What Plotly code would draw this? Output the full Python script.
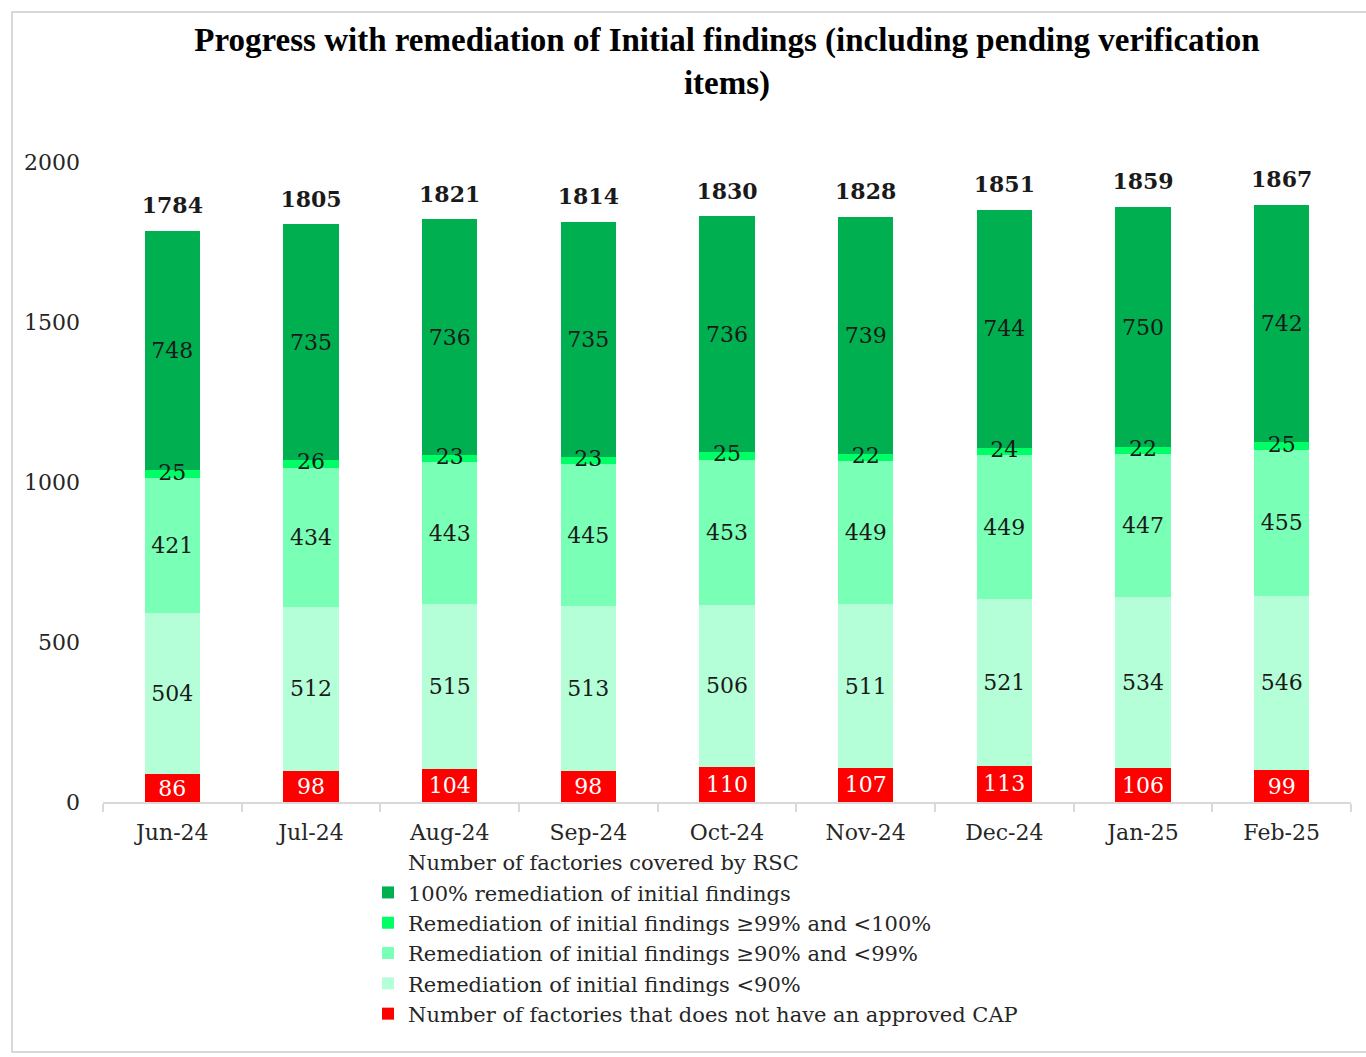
import plotly.graph_objects as go

months = ["Jun-24", "Jul-24", "Aug-24", "Sep-24", "Oct-24", "Nov-24", "Dec-24", "Jan-25", "Feb-25"]
totals = [1784, 1805, 1821, 1814, 1830, 1828, 1851, 1859, 1867]
full_100 = [748, 735, 736, 735, 736, 739, 744, 750, 742]
pct_99_100 = [25, 26, 23, 23, 25, 22, 24, 22, 25]
pct_90_99 = [421, 434, 443, 445, 453, 449, 449, 447, 455]
pct_lt_90 = [504, 512, 515, 513, 506, 511, 521, 534, 546]
no_cap = [86, 98, 104, 98, 110, 107, 113, 106, 99]

FONT = "DejaVu Serif"
LABEL_SIZE = 22
TEXT_COL = "#1a1a1a"

# (name, values, colour, label colour, label inside bar?) from the bottom of the stack up
series = [
    ("Number of factories that does not have an approved CAP", no_cap, "#FF0000", "white", True),
    ("Remediation of initial findings <90%", pct_lt_90, "#B4FFD7", TEXT_COL, True),
    ("Remediation of initial findings \u226590% and <99%", pct_90_99, "#7AFFB6", TEXT_COL, True),
    ("Remediation of initial findings \u226599% and <100%", pct_99_100, "#00FF66", TEXT_COL, False),
    ("100% remediation of initial findings", full_100, "#00B050", TEXT_COL, True),
]

fig = go.Figure()
for name, vals, colour, txt, inside in series:
    fig.add_trace(
        go.Bar(
            x=months,
            y=vals,
            name=name,
            marker=dict(color=colour, line=dict(width=0)),
            text=vals if inside else None,
            textposition="inside" if inside else "none",
            insidetextanchor="middle",
            textangle=0,
            textfont=dict(family=FONT, size=LABEL_SIZE, color=txt),
        )
    )

# the thin >=99% segment: its label floats above the neighbouring bars
base_99 = [a + b + c for a, b, c in zip(no_cap, pct_lt_90, pct_90_99)]
fig.add_trace(
    go.Scatter(
        x=months,
        y=[b + v / 2 for b, v in zip(base_99, pct_99_100)],
        mode="text",
        text=pct_99_100,
        textposition="middle center",
        textfont=dict(family=FONT, size=LABEL_SIZE, color=TEXT_COL),
        showlegend=False,
        hoverinfo="skip",
    )
)

# legend entry for the totals (nothing drawn in the plot)
fig.add_trace(
    go.Bar(
        x=months,
        y=[0] * len(months),
        name="Number of factories covered by RSC",
        marker=dict(color="rgba(0,0,0,0)", line=dict(width=0)),
        hoverinfo="skip",
    )
)

# totals above each stack
fig.add_trace(
    go.Scatter(
        x=months,
        y=totals,
        mode="markers+text",
        marker=dict(size=18, opacity=0),
        text=totals,
        textposition="top center",
        textfont=dict(family=FONT, size=LABEL_SIZE, color=TEXT_COL, weight="bold"),
        showlegend=False,
        cliponaxis=False,
    )
)

L, R, T, B = 103, 15, 162, 255
W, H = 1366, 1057
pw, ph = W - L - R, H - T - B

fig.update_layout(
    width=W,
    height=H,
    barmode="stack",
    bargap=0.6,
    plot_bgcolor="white",
    paper_bgcolor="white",
    margin=dict(l=L, r=R, t=T, b=B, autoexpand=False),
    font=dict(family=FONT, size=LABEL_SIZE, color="#262626"),
    uniformtext=dict(minsize=LABEL_SIZE, mode="show"),
    title=dict(
        text="Progress with remediation of Initial findings (including pending verification<br>items)",
        x=(L + pw / 2) / W,
        xanchor="center",
        xref="container",
        yref="container",
        y=1 - 51 / H,
        yanchor="top",
        font=dict(family="Liberation Serif", size=33, color="black", weight="bold"),
    ),
    legend=dict(
        traceorder="reversed",
        orientation="v",
        x=(368 - L) / pw,
        xanchor="left",
        y=(H - B - 842) / ph,
        yanchor="top",
        font=dict(family=FONT, size=21, color="#262626"),
        itemwidth=30,
        tracegroupgap=0,
        bgcolor="rgba(0,0,0,0)",
    ),
    showlegend=True,
)

fig.update_xaxes(
    range=[-0.5, len(months) - 0.5],
    showline=True,
    linecolor="#D9D9D9",
    linewidth=2,
    ticks="outside",
    tickson="boundaries",
    ticklen=8,
    tickcolor="#D9D9D9",
    tickwidth=2,
    ticklabelstandoff=10,
    tickfont=dict(family=FONT, size=LABEL_SIZE, color="#262626"),
)
fig.update_yaxes(
    range=[0, 2000],
    tickvals=[0, 500, 1000, 1500, 2000],
    showgrid=False,
    zeroline=False,
    showline=False,
    ticklabelstandoff=22,
    tickfont=dict(family=FONT, size=LABEL_SIZE, color="#262626"),
)

# chart frame
fig.add_shape(
    type="rect",
    xref="paper",
    yref="paper",
    x0=(12 - L) / pw,
    x1=(W + 5 - L) / pw,
    y0=(H - B - 1052) / ph,
    y1=(H - B - 12) / ph,
    line=dict(color="#D9D9D9", width=2),
    fillcolor="rgba(0,0,0,0)",
    layer="below",
)

fig.write_html(
    "out.html",
    config={"displayModeBar": False},
    post_script="document.body.style.margin = '0';",
)
